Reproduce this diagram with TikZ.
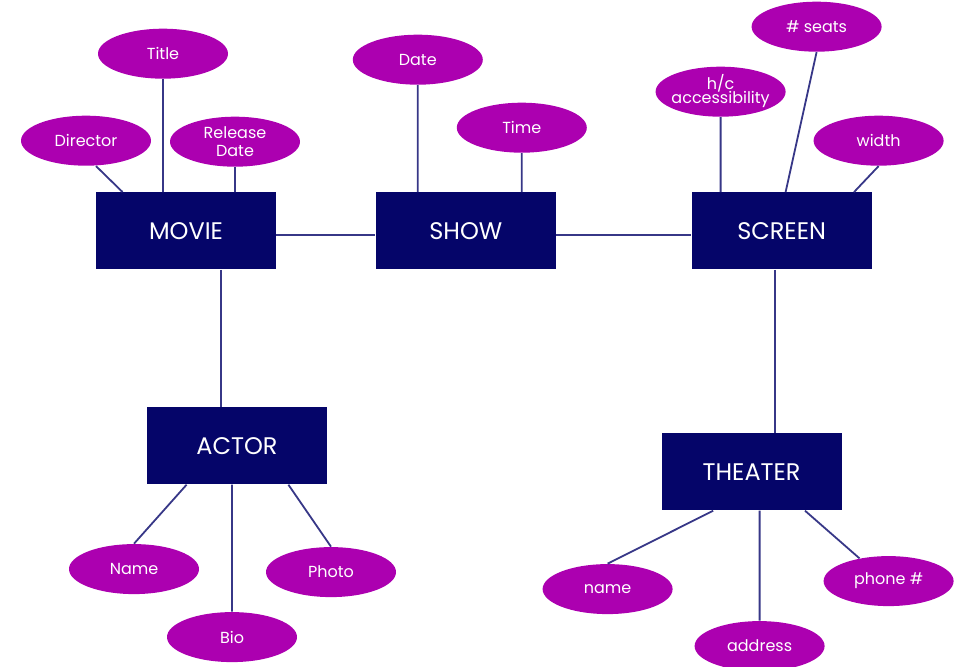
\documentclass[tikz,border=0pt]{standalone}
\usepackage{fontspec}
\setmainfont{Poppins}
\usetikzlibrary{positioning, shapes.geometric}
\definecolor{entityblue}{RGB}{5,5,105}
\definecolor{attrpurple}{RGB}{172,0,176}
\definecolor{linkblue}{RGB}{55,55,135}
\tikzset{
	node distance=2cm, % default, overwritten per node below
	entity/.style={rectangle, fill=entityblue, text=white, minimum width=90pt, minimum height=38.5pt, font=\fontsize{12}{14}\selectfont}, % the boxes
	attr/.style={ellipse, fill=attrpurple, text=white, minimum width=65pt, minimum height=25pt, inner sep=0pt, align=center, font=\fontsize{8}{9}\selectfont}, % the attributes
	link/.style={draw=linkblue, line width=0.9pt}, % the connecting lines
}
\begin{document}
\begin{tikzpicture}
	\useasboundingbox (0,0) rectangle (479.5pt,-333.5pt);
	% entities
	\node[entity] (movie) at (93pt,-115.5pt) {MOVIE};
	\node[entity, right=49.5pt of movie] (show) {SHOW};
	\node[entity, right=67.5pt of show] (screen) {SCREEN};
	\node[entity, below=68.5pt of movie, xshift=25.5pt] (actor) {ACTOR};
	\node[entity, below=81.5pt of screen, xshift=-15pt] (theater) {THEATER};
	% attributes of movie
	\node[attr, above=56.5pt of movie, xshift=-11.5pt] (title) {Title};
	\node[attr, above=13pt of movie, xshift=-50pt] (director) {Director};
	\node[attr, above=12.5pt of movie, xshift=24.5pt] (release) {Release\\Date};
	% attributes of show
	\node[attr, above=53.5pt of show, xshift=-24pt] (date) {Date};
	\node[attr, above=19.5pt of show, xshift=28pt] (time) {Time};
	% attributes of screen
	\node[attr, above=37.5pt of screen, xshift=-30.5pt] (access) {\makebox[0pt]{\begin{tabular}{@{}c@{}}h/c\\[-2pt]accessibility\end{tabular}}};
	\node[attr, above=70pt of screen, xshift=17.5pt] (seats) {\# seats};
	\node[attr, above=13pt of screen, xshift=48.5pt] (width) {width};
	% attributes of actor
	\node[attr, below=29.5pt of actor, xshift=-51.5pt] (aname) {Name};
	\node[attr, below=63.5pt of actor, xshift=-2.5pt] (bio) {Bio};
	\node[attr, below=31pt of actor, xshift=47pt] (photo) {Photo};
	% attributes of theater
	\node[attr, below=26.5pt of theater, xshift=-72pt] (tname) {name};
	\node[attr, below=55pt of theater, xshift=4pt] (address) {address};
	\node[attr, below=22.5pt of theater, xshift=68.5pt] (phone) {phone \#};
	% relationships
	\draw[link] ([yshift=-2pt]movie.east) -- ([yshift=-2pt]show.west)
		([yshift=-2pt]show.east) -- ([yshift=-2pt]screen.west)
		([xshift=17.5pt]movie.south) -- ([xshift=17.5pt]movie.south |- actor.north)
		([xshift=-3.5pt]screen.south) -- ([xshift=-3.5pt]screen.south |- theater.north);
	% attribute links
	\draw[link] (title) -- (title |- movie.north)
		([xshift=5pt]director.south) -- ([xshift=13.5pt]movie.north west)
		(release) -- (release |- movie.north)
		(date) -- (date |- show.north)
		(time) -- (time |- show.north)
		(access) -- (access |- screen.north)
		(seats.south) -- ([xshift=2pt]screen.north)
		(width.south) -- ([xshift=-9pt]screen.north east)
		(aname.north) -- ([xshift=20pt]actor.south west)
		(bio) -- (bio |- actor.south)
		(photo.north) -- ([xshift=-19.5pt]actor.south east)
		(tname.north) -- ([xshift=26pt]theater.south west)
		(address) -- (address |- theater.south)
		(phone.142) -- ([xshift=-18.5pt]theater.south east);
\end{tikzpicture}
\end{document}
